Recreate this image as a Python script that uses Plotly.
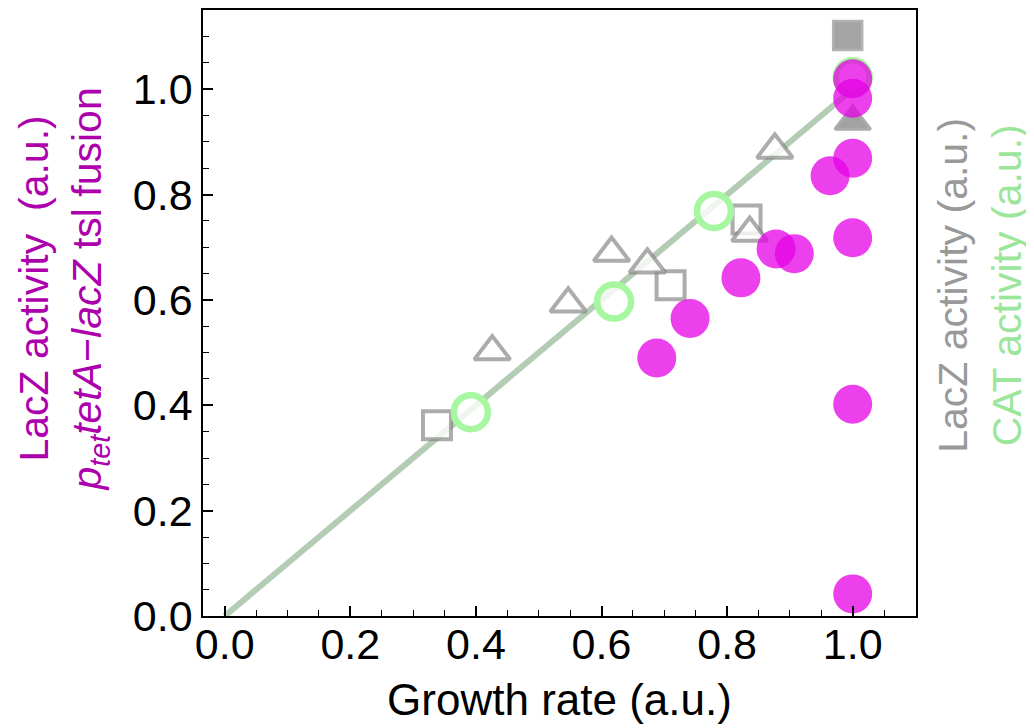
import plotly.graph_objects as go

# Magenta: LacZ activity of p_tet tetA-lacZ tsl fusion
mag_x = [0.688, 0.741, 0.822, 0.878, 0.907, 0.964, 1.0, 1.0, 1.0, 1.0, 1.0, 1.0]
mag_y = [0.490, 0.565, 0.642, 0.697, 0.688, 0.836, 0.869, 0.718, 0.402, 0.042, 0.983, 1.020]

# Gray open squares: LacZ activity
sq_x = [0.338, 0.710, 0.831]
sq_y = [0.362, 0.628, 0.753]
# Gray filled square
sqf_x = [0.992]
sqf_y = [1.102]

# Gray open triangles: LacZ activity
tri_x = [0.426, 0.547, 0.616, 0.673, 0.836, 0.876]
tri_y = [0.502, 0.593, 0.689, 0.667, 0.727, 0.885]
# Gray filled triangle
trif_x = [1.0]
trif_y = [0.939]

# Green open circles: CAT activity
cat_x = [0.392, 0.620, 0.779, 1.0]
cat_y = [0.387, 0.597, 0.769, 1.023]

# Reference line
line_x = [0.0, 1.0]
line_y = [0.0, 1.0]

x_ticks = [0.0, 0.2, 0.4, 0.6, 0.8, 1.0]
y_ticks = [0.0, 0.2, 0.4, 0.6, 0.8, 1.0]

FONT = "Liberation Sans, Arial, Helvetica, sans-serif"
GRAY = "rgba(128,128,128,0.65)"
OPEN_FILL = "rgba(255,255,255,0.8)"

fig = go.Figure()

fig.add_trace(go.Scatter(x=line_x, y=line_y, mode="lines",
                         line=dict(color="#b4cbb4", width=6), hoverinfo="skip"))

fig.add_trace(go.Scatter(x=sq_x, y=sq_y, mode="markers",
                         marker=dict(symbol="square", size=28, color=OPEN_FILL,
                                     line=dict(color=GRAY, width=4))))
fig.add_trace(go.Scatter(x=sqf_x, y=sqf_y, mode="markers",
                         marker=dict(symbol="square", size=29, color="#a4a4a4",
                                     line=dict(color="#b2b2b2", width=2.5))))
fig.add_trace(go.Scatter(x=tri_x, y=tri_y, mode="markers",
                         marker=dict(symbol="triangle-up", size=31, color=OPEN_FILL,
                                     line=dict(color=GRAY, width=4))))
fig.add_trace(go.Scatter(x=trif_x, y=trif_y, mode="markers",
                         marker=dict(symbol="triangle-up", size=31, color="#a2a2a2",
                                     line=dict(color="#ababab", width=3))))
fig.add_trace(go.Scatter(x=cat_x, y=cat_y, mode="markers",
                         marker=dict(symbol="circle", size=34, color=OPEN_FILL,
                                     line=dict(color="#a6f7a0", width=6.5))))
fig.add_trace(go.Scatter(x=mag_x, y=mag_y, mode="markers",
                         marker=dict(symbol="circle", size=39,
                                     color="rgba(230,0,230,0.75)",
                                     line=dict(width=0))))

axis_common = dict(
    showline=True, linecolor="black", linewidth=1.6, mirror=True,
    ticks="inside", ticklen=10, tickwidth=1.5, tickcolor="black",
    showgrid=False, zeroline=False, automargin=False,
    tickfont=dict(family=FONT, size=43, color="black"),
    tickformat=".1f",
    minor=dict(ticks="inside", dtick=0.05, ticklen=6, tickwidth=1.3,
               tickcolor="black", showgrid=False),
)

fig.update_xaxes(range=[-0.0346, 1.1008], tickvals=x_ticks, **axis_common,
                 ticklabelstandoff=-10,
                 title=dict(text="Growth rate (a.u.)",
                            font=dict(family=FONT, size=44, color="black"),
                            standoff=17))
fig.update_yaxes(range=[0.0, 1.1506], tickvals=y_ticks, **axis_common)

fig.add_annotation(
    xref="paper", yref="paper", x=-0.1955, y=0.538,
    xanchor="center", yanchor="middle", textangle=-90, showarrow=False,
    text=("LacZ activity  (a.u.)<br><i>p</i><sub><i>tet</i></sub>"
          "<i>tetA</i>\u2212<i>lacZ</i> tsl fusion"),
    font=dict(family=FONT, size=41, color="#ad00ad"),
)
fig.add_annotation(
    xref="paper", yref="paper", x=1.0898, y=0.545,
    xanchor="center", yanchor="middle", textangle=-90, showarrow=False,
    text=("<span style='color:#999999'>LacZ activity (a.u.)</span><br>"
          "<span style='color:#9be69b'>CAT activity (a.u.)</span>"),
    font=dict(family=FONT, size=41, color="#999999"),
)

fig.update_layout(
    width=1034, height=728,
    margin=dict(l=195, r=126, t=2, b=120, autoexpand=False),
    paper_bgcolor="white", plot_bgcolor="white",
    showlegend=False,
    font=dict(family=FONT),
)

fig.write_html("out.html")
